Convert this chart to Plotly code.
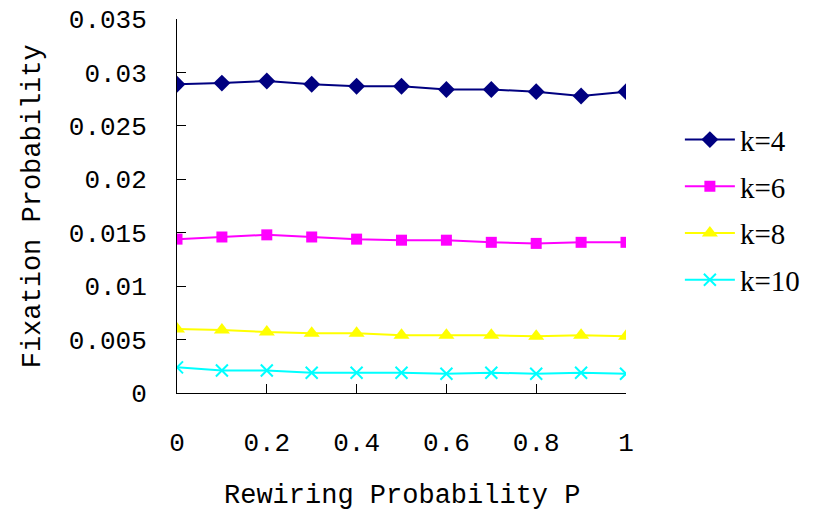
import plotly.graph_objects as go

# Rewiring probability P
p_values = [0, 0.1, 0.2, 0.3, 0.4, 0.5, 0.6, 0.7, 0.8, 0.9, 1.0]

# Fixation probability for each mean degree k
fix_k4 = [0.0289, 0.0290, 0.0292, 0.0289, 0.0287, 0.0287, 0.0284, 0.0284, 0.0282, 0.0278, 0.0282]
fix_k6 = [0.0144, 0.0146, 0.0148, 0.0146, 0.0144, 0.0143, 0.0143, 0.0141, 0.0140, 0.0141, 0.0141]
fix_k8 = [0.0060, 0.0059, 0.0057, 0.0056, 0.0056, 0.0054, 0.0054, 0.0054, 0.0053, 0.0054, 0.0053]
fix_k10 = [0.0024, 0.0021, 0.0021, 0.0019, 0.0019, 0.0019, 0.0018, 0.0019, 0.0018, 0.0019, 0.0018]

series_names = ["k=4", "k=6", "k=8", "k=10"]
series_values = [fix_k4, fix_k6, fix_k8, fix_k10]
series_colors = ["#000080", "#FF00FF", "#FFFF00", "#00FFFF"]
series_symbols = ["diamond", "square", "triangle-up", "x-thin"]
series_sizes = [13, 11, 14, 12]

x_ticks = [0, 0.2, 0.4, 0.6, 0.8, 1.0]
x_ticktext = ["0", "0.2", "0.4", "0.6", "0.8", "1"]
y_ticks = [0, 0.005, 0.01, 0.015, 0.02, 0.025, 0.03, 0.035]
y_ticktext = ["0", "0.005", "0.01", "0.015", "0.02", "0.025", "0.03", "0.035"]

x_title = "Rewiring Probability P"
y_title = "Fixation Probability"

mono = "Liberation Mono"
serif = "Liberation Serif"

fig = go.Figure()
for name, vals, col, sym, sz in zip(series_names, series_values, series_colors,
                                    series_symbols, series_sizes):
    marker = dict(symbol=sym, size=sz, color=col)
    if sym == "x-thin":
        marker["line"] = dict(color=col, width=2)
    fig.add_trace(go.Scatter(
        x=p_values, y=vals, name=name, legendgroup=name,
        mode="lines+markers",
        line=dict(color=col, width=2),
        marker=marker,
    ))

axis_common = dict(
    showgrid=False, zeroline=False, automargin=False,
    showline=True, linecolor="black", linewidth=1,
    ticks="inside", ticklen=9, tickcolor="black", tickwidth=1,
    tickfont=dict(family=mono, size=26, color="black"),
)

fig.update_layout(
    width=821, height=511,
    margin=dict(l=177, r=195, t=19, b=118, autoexpand=False),
    paper_bgcolor="white", plot_bgcolor="white",
    showlegend=True,
    legend=dict(
        x=1.12, xanchor="left", xref="paper",
        y=0.49, yanchor="middle",
        font=dict(family=serif, size=29, color="black"),
        tracegroupgap=6,
        bgcolor="rgba(0,0,0,0)",
        itemwidth=50,
    ),
    xaxis=dict(range=[0, 1], tickvals=x_ticks, ticktext=x_ticktext,
               ticklabelstandoff=26, **axis_common),
    yaxis=dict(range=[0, 0.035], tickvals=y_ticks, ticktext=y_ticktext,
               ticklabelstandoff=24, **axis_common),
    annotations=[
        dict(text=x_title, xref="paper", yref="paper", x=0.5, y=-0.276,
             xanchor="center", yanchor="middle", showarrow=False,
             font=dict(family=mono, size=27, color="black")),
        dict(text=y_title, xref="paper", yref="paper", x=-0.32, y=0.5,
             xanchor="center", yanchor="middle", showarrow=False, textangle=-90,
             font=dict(family=mono, size=27, color="black")),
    ],
)

fig.write_html("out.html")
